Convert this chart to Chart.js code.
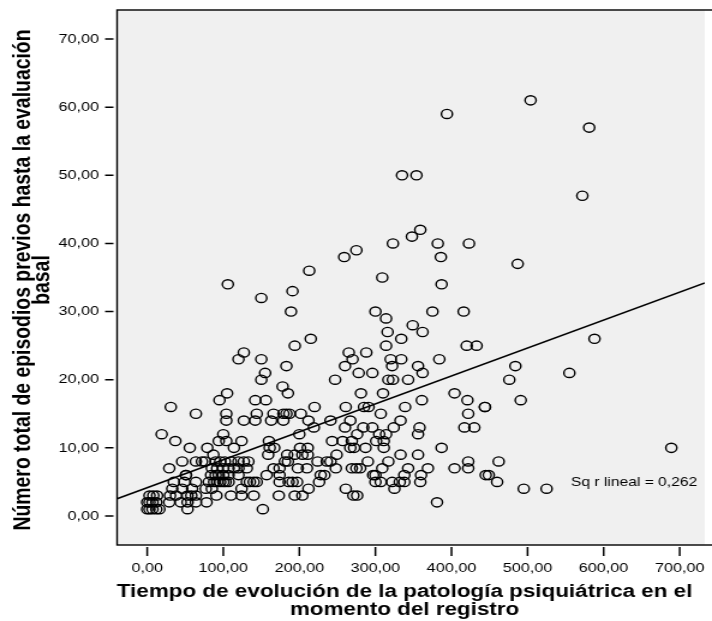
<!DOCTYPE html>
<html lang="es">
<head>
<meta charset="utf-8">
<title>Episodios previos vs tiempo de evolución</title>
<script src="https://cdn.jsdelivr.net/npm/chart.js@4.4.1/dist/chart.umd.min.js"></script>
<style>
  html, body { margin: 0; padding: 0; background: #fff; }
</style>
</head>
<body>
<!-- canvas is drawn narrower and stretched sideways, like the SPSS export -->
<canvas id="grafico" width="593" height="621" style="display:block;width:712px;height:621px"></canvas>
<script>
/* ── data: número de episodios (y) and the tiempos de evolución (x) at each count ── */
const nivelesEpisodios = [1, 2, 3, 4, 5, 6, 7, 8, 9, 10, 11, 12, 13, 14, 15, 16, 17, 18, 19, 20,
  21, 22, 23, 24, 25, 26, 27, 28, 29, 30, 32, 33, 34, 35, 36, 37, 38, 39, 40, 41, 42, 47, 50, 57, 59, 61];

const tiemposPorNivel = [
  [0, 3, 7, 12, 16, 53, 152],                                             // 1
  [0, 3, 7, 12, 29, 44, 53, 64, 78, 381],                                 // 2
  [3, 8, 13, 30, 38, 53, 58, 64, 91, 110, 124, 140, 173, 194, 204, 271, 276], // 3
  [33, 46, 59, 77, 85, 124, 212, 261, 325, 495, 525],                     // 4
  [35, 49, 64, 81, 88, 92, 96, 100, 103, 107, 131, 135, 140, 144, 174, 186, 191, 197,
   226, 300, 307, 322, 332, 338, 359, 460],                               // 5
  [51, 51, 84, 90, 94, 100, 107, 120, 157, 174, 228, 233, 297, 300, 338, 360, 445, 449], // 6
  [29, 85, 92, 100, 107, 114, 120, 131, 166, 174, 198, 210, 248, 269, 275, 280, 309,
   343, 369, 404, 422],                                                   // 7
  [46, 64, 72, 76, 90, 96, 102, 110, 120, 127, 133, 181, 185, 224, 236, 241, 290, 317, 422, 462], // 8
  [87, 159, 184, 194, 204, 211, 249, 333, 356],                           // 9
  [56, 79, 114, 161, 167, 201, 211, 267, 272, 287, 311, 387, 689],        // 10
  [37, 94, 104, 124, 160, 243, 257, 269, 301, 311],                       // 11
  [19, 100, 200, 276, 305, 314, 356],                                     // 12
  [219, 260, 284, 296, 324, 358, 417, 430],                               // 13
  [104, 127, 142, 163, 179, 212, 241, 267, 333],                          // 14
  [64, 104, 144, 166, 179, 183, 187, 202, 307, 422],                      // 15
  [31, 220, 261, 285, 291, 339, 444, 444],                                // 16
  [95, 142, 156, 361, 421, 491],                                          // 17
  [105, 185, 281, 310, 404],                                              // 18
  [178],                                                                  // 19
  [150, 247, 317, 323, 343, 476],                                         // 20
  [155, 278, 296, 362, 555],                                              // 21
  [183, 260, 322, 356, 484],                                              // 22
  [120, 150, 270, 320, 334, 384],                                         // 23
  [127, 265, 288],                                                        // 24
  [194, 314, 420, 433],                                                   // 25
  [215, 334, 588],                                                        // 26
  [316, 362],                                                             // 27
  [349],                                                                  // 28
  [314],                                                                  // 29
  [189, 300, 375, 416],                                                   // 30
  [150],                                                                  // 32
  [191],                                                                  // 33
  [106, 387],                                                             // 34
  [309],                                                                  // 35
  [213],                                                                  // 36
  [487],                                                                  // 37
  [259, 386],                                                             // 38
  [275],                                                                  // 39
  [323, 382, 423],                                                        // 40
  [348],                                                                  // 41
  [359],                                                                  // 42
  [572],                                                                  // 47
  [335, 354],                                                             // 50
  [581],                                                                  // 57
  [394],                                                                  // 59
  [504],                                                                  // 61
];

// fit line as printed by SPSS (Sq r lineal = 0,262)
const ajusteIntercepto = 4.14;
const ajustePendiente  = 0.041;
const r2Lineal         = 0.262;

const ticksTiempo    = [0, 100, 200, 300, 400, 500, 600, 700];
const ticksEpisodios = [0, 10, 20, 30, 40, 50, 60, 70];

const rangoTiempo    = { min: -39.6, max: 733 };
const rangoEpisodios = { min: -4.26, max: 74.26 };

const tituloX = ['Tiempo de evolución de la patología psiquiátrica en el', 'momento del registro'];
const tituloY = ['Número total de episodios previos hasta la evaluación', 'basal'];

/* ── helpers ── */
const fmtComa = v => v.toFixed(2).replace('.', ',');

const puntos = [];
nivelesEpisodios.forEach((y, i) => tiemposPorNivel[i].forEach(x => puntos.push({ x, y })));

const lineaAjuste = [rangoTiempo.min, rangoTiempo.max].map(x => ({ x, y: ajusteIntercepto + ajustePendiente * x }));

Chart.defaults.font.family = '"Liberation Sans", Arial, sans-serif';
Chart.defaults.color = '#000';

// plot background, frame, detached tick marks, axis titles and the R² note
const marcoSpss = {
  id: 'marcoSpss',
  beforeDatasetsDraw(chart) {
    const { ctx, chartArea: a, scales } = chart;
    ctx.save();
    ctx.fillStyle = '#f0f0f0';
    ctx.fillRect(a.left, a.top, a.right - a.left, a.bottom - a.top);
    ctx.strokeStyle = '#000';
    ctx.lineWidth = 1.4;
    ctx.strokeRect(a.left, a.top, a.right - a.left + 20, a.bottom - a.top);

    ctx.lineWidth = 1.5;
    ctx.beginPath();
    scales.x.ticks.forEach(t => {
      const px = scales.x.getPixelForValue(t.value);
      ctx.moveTo(px, a.bottom + 2);
      ctx.lineTo(px, a.bottom + 11);
    });
    scales.y.ticks.forEach(t => {
      const py = scales.y.getPixelForValue(t.value);
      ctx.moveTo(a.left - 10, py);
      ctx.lineTo(a.left - 3, py);
    });
    ctx.stroke();
    ctx.restore();
  },
  afterDraw(chart) {
    const { ctx } = chart;
    ctx.save();
    ctx.fillStyle = '#000';
    ctx.font = 'bold 18.7px "Liberation Sans", Arial, sans-serif';
    ctx.textAlign = 'center';
    ctx.textBaseline = 'middle';
    ctx.fillText(tituloX[0], 337, 592);
    ctx.fillText(tituloX[1], 337, 610);

    ctx.font = 'bold 19.4px "Liberation Sans", Arial, sans-serif';
    ctx.translate(20, 280);
    ctx.rotate(-Math.PI / 2);
    ctx.fillText(tituloY[0], 0, 0);
    ctx.fillText(tituloY[1], 0, 16);
    ctx.restore();

    ctx.save();
    ctx.font = '13px "Liberation Sans", Arial, sans-serif';
    ctx.fillStyle = '#000';
    ctx.textAlign = 'left';
    ctx.textBaseline = 'middle';
    ctx.fillText('Sq r lineal = ' + r2Lineal.toFixed(3).replace('.', ','), 475.5, 482);
    ctx.restore();
  }
};

new Chart(document.getElementById('grafico'), {
  type: 'scatter',
  data: {
    datasets: [
      {
        label: 'Casos',
        data: puntos,
        pointStyle: 'circle',
        pointRadius: 4.6,
        pointBorderWidth: 1.4,
        pointBorderColor: '#000',
        pointBackgroundColor: 'rgba(0,0,0,0)',
        order: 1,
      },
      {
        label: 'Ajuste lineal',
        data: lineaAjuste,
        showLine: true,
        borderColor: '#000',
        borderWidth: 1.6,
        pointRadius: 0,
        order: 2,
      },
    ]
  },
  options: {
    responsive: false,
    devicePixelRatio: 1,
    animation: false,
    events: [],
    layout: { padding: { top: 10, right: 0, bottom: 0, left: 0 } },
    plugins: { legend: { display: false }, tooltip: { enabled: false } },
    scales: {
      x: {
        type: 'linear',
        position: 'bottom',
        min: rangoTiempo.min,
        max: rangoTiempo.max,
        afterBuildTicks: s => { s.ticks = ticksTiempo.map(value => ({ value })); },
        // plot runs right to the edge of the canvas, no room kept for the last label
        afterFit: s => { s.height = 76; s.paddingLeft = 0; s.paddingRight = 0; },
        grid: { display: false, drawTicks: false },
        border: { display: false },
        ticks: {
          autoSkip: false, maxRotation: 0, padding: 15,
          font: { size: 13.5 }, color: '#000',
          callback: v => fmtComa(v),
        },
      },
      y: {
        type: 'linear',
        position: 'left',
        min: rangoEpisodios.min,
        max: rangoEpisodios.max,
        afterBuildTicks: s => { s.ticks = ticksEpisodios.map(value => ({ value })); },
        afterFit: s => { s.width = 97.5; s.paddingTop = 0; s.paddingBottom = 0; },
        grid: { display: false, drawTicks: false },
        border: { display: false },
        ticks: {
          padding: 15,
          font: { size: 13.5 }, color: '#000',
          callback: v => fmtComa(v),
        },
      },
    }
  },
  plugins: [marcoSpss]
});
</script>
</body>
</html>
